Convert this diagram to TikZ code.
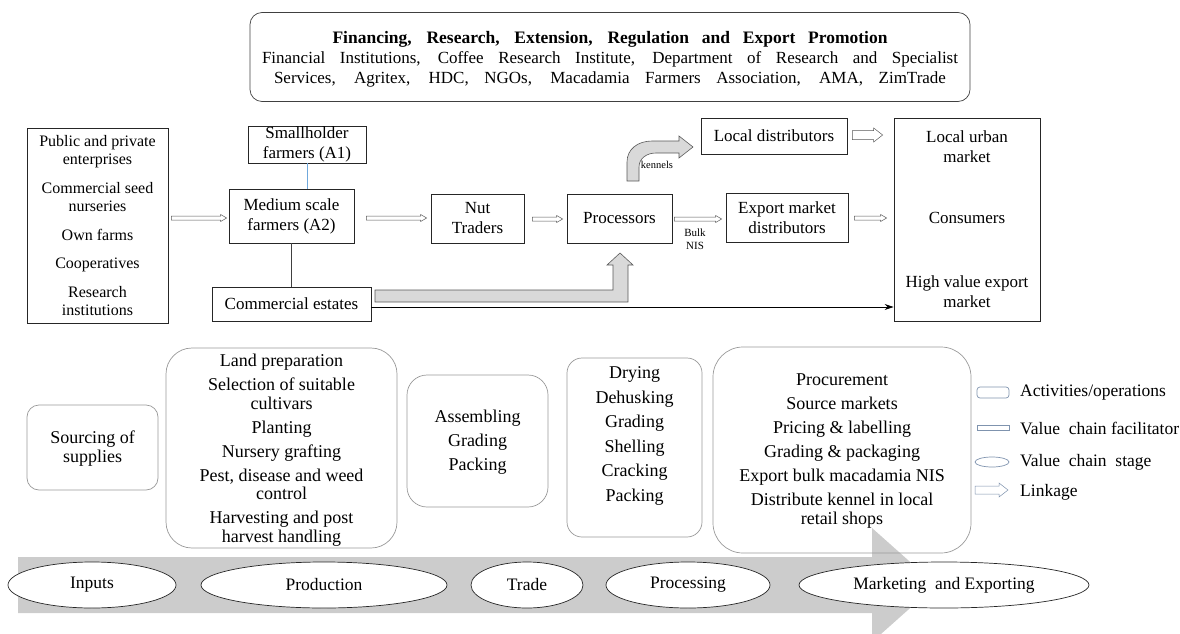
\documentclass[tikz,border=0pt]{standalone}
\usepackage{fontspec}
\setmainfont{LiberationSerif}[Extension=.ttf, UprightFont=*-Regular, BoldFont=*-Bold, ItalicFont=*-Italic, BoldItalicFont=*-BoldItalic]
\usetikzlibrary{shapes.geometric,arrows.meta,calc}
\newcommand\myfs[2]{\fontsize{#1}{#2}\selectfont}
\definecolor{legblue}{HTML}{7F93AE}
\definecolor{thinblue}{HTML}{6FA8DC}
\begin{document}
\begin{tikzpicture}[x=1pt,y=-1pt,
  box/.style={draw=black!85, line width=0.7pt, align=center, inner sep=0pt, font=\myfs{17}{20}},
  rbox/.style={draw=black!40, line width=0.7pt, inner sep=0pt},
  txt/.style={align=center, inner sep=0pt, font=\myfs{18}{18.5}},
  stage/.style={ellipse, draw=black!85, fill=white, line width=0.7pt, inner sep=0pt, font=\myfs{17.5}{20}},
  link/.style n args={3}{draw=black!65, fill=white, line width=0.5pt,
    to path={let \p1=(\tikztostart), \p2=(\tikztotarget) in
      (\x1,{\y1+#1}) -- ({\x2-#3},{\y1+#1}) -- ({\x2-#3},{\y1+#2}) -- (\x2,\y1)
      -- ({\x2-#3},{\y1-#2}) -- ({\x2-#3},{\y1-#1}) -- (\x1,{\y1-#1}) -- cycle}},
  blockarrow/.style={draw=black!65, fill=gray!30, line width=0.6pt},
  smalltxt/.style={font=\myfs{11}{12.5}, inner sep=0pt, align=center},
  legtxt/.style={font=\myfs{17.5}{20}, inner sep=0pt, anchor=west}
]
\useasboundingbox (0,0) rectangle (1180,634);

% big value chain arrow
\fill[gray!40] (18,557) -- (872,557) -- (872,528) -- (936,585) -- (872,642) -- (872,613) -- (18,613) -- cycle;

% top facilitator box
\node[draw=black!75, line width=0.7pt, rounded corners=12pt, minimum width=720, minimum height=89, inner sep=0pt] (top) at (610,57) {};
\node[align=center, inner sep=0pt, font=\myfs{17}{19.5}] (toptxt) at (610,59)
 {{\bfseries\myfs{17.5}{19}\makebox[555pt][s]{Financing, Research, Extension, Regulation and Export Promotion}}\\[1pt]
  \makebox[696pt][s]{Financial Institutions, Coffee Research Institute, Department of Research and Specialist}\\
  \makebox[672pt][s]{Services, Agritex, HDC, NGOs, Macadamia Farmers Association, AMA, ZimTrade}};

% actors
\node[box, minimum width=141, minimum height=195, font=\myfs{16}{18.5}] (inputs) at (97.5,225.5)
 {Public and private\\enterprises\\[10pt]Commercial seed\\nurseries\\[10pt]Own farms\\[10pt]Cooperatives\\[10pt]Research\\institutions};
\node[box, minimum width=118, minimum height=37] (small) at (307,144.5) {Smallholder\\farmers (A1)};
\node[box, minimum width=125, minimum height=54] (medium) at (291.5,216) {Medium scale\\farmers (A2)};
\node[box, minimum width=159, minimum height=34] (estates) at (291.5,304) {Commercial estates};
\node[box, minimum width=93, minimum height=49] (traders) at (477.5,218.5) {Nut\\Traders};
\node[box, minimum width=105, minimum height=49] (proc) at (619.5,218.5) {Processors};
\node[box, minimum width=122, minimum height=49] (export) at (787,217.5) {Export market\\distributors};
\node[box, minimum width=146, minimum height=36] (local) at (774,136) {Local distributors};
\node[box, minimum width=146, minimum height=203] (market) at (967,219.5)
 {Local urban\\market\\[41pt]Consumers\\[44pt]High value export\\market};

% plain connectors
\draw[thinblue, line width=0.7pt] (small.south) -- (small.south |- medium.north);
\draw[black!75, line width=0.7pt] (medium.south) -- (medium.south |- estates.north);

% linkage arrows
\draw[link={2pt}{3.5pt}{6pt}] ([xshift=3pt,yshift=7.5pt]inputs.east) to ([xshift=-2pt]medium.west);
\draw[link={2pt}{3.5pt}{6pt}] ([xshift=12pt,yshift=-2pt]medium.east) to ([xshift=-4pt]traders.west);
\draw[link={2pt}{3.5pt}{6pt}] ([xshift=8pt,yshift=-0.5pt]traders.east) to ([xshift=-4pt]proc.west);
\draw[link={2pt}{3.5pt}{6pt}] ([xshift=2pt,yshift=-0.5pt]proc.east) to ([xshift=-4pt]export.west);
\draw[link={2pt}{3.5pt}{6pt}] ([xshift=6pt,yshift=-0.5pt]export.east) to ([xshift=-7pt]market.west);
\draw[link={4.5pt}{7pt}{9pt}] ([xshift=5pt,yshift=1pt]local.east) to ([xshift=-11pt]local.east -| market.west);

% block arrows
\draw[blockarrow] (627,181) -- (627,162) .. controls (627,149) and (638,141) .. (652,141) -- (679,141)
  -- (679,136) -- (693,147) -- (679,158) -- (679,153) -- (656,153)
  .. controls (646,153) and (639,159) .. (639,167) -- (639,181) -- cycle;
\node[smalltxt, font=\myfs{10.5}{12}] (kennels) at (657,165) {kennels};
\draw[blockarrow] (375,290) -- (613,290) -- (613,265) -- (607,265) -- (620,253) -- (633,265)
  -- (628,265) -- (628,302) -- (375,302) -- cycle;
\node[smalltxt] (bulk) at (695,239) {Bulk\\NIS};

% direct export arrow
\coordinate (bk) at ([yshift=-3pt]estates.east);
\draw[line width=0.8pt, -{Stealth[length=9pt,width=6pt]}] (bk) -- (bk -| market.west);

% activity boxes
\node[rbox, rounded corners=12pt, minimum width=131, minimum height=85] (srcbox) at (92.5,447.5) {};
\node[txt, font=\myfs{18}{19}] (srctxt) at (92.5,448.5) {Sourcing of\\supplies};
\node[rbox, rounded corners=26pt, minimum width=231, minimum height=200] (prodbox) at (281.5,448) {};
\node[txt] (prodtxt) at (281.5,450) {Land preparation\\[5.5pt]Selection of suitable\\cultivars\\[5.5pt]Planting\\[5.5pt]Nursery grafting\\[5.5pt]Pest, disease and weed\\control\\[5.5pt]Harvesting and post\\harvest handling};
\node[rbox, rounded corners=20pt, minimum width=141, minimum height=132] (tradebox) at (477.5,441) {};
\node[txt, font=\myfs{18}{24}] (tradetxt) at (477.5,442) {Assembling\\Grading\\Packing};
\node[rbox, rounded corners=15pt, minimum width=135, minimum height=179] (procbox) at (634.5,447.5) {};
\node[txt, font=\myfs{18}{24.6}] (proctxt) at (634.5,436) {Drying\\Dehusking\\Grading\\Shelling\\Cracking\\Packing};
\node[rbox, rounded corners=30pt, minimum width=258, minimum height=206] (mktbox) at (842,450) {};
\node[txt, font=\myfs{18}{19}] (mkttxt) at (842,451) {Procurement\\[5pt]Source markets\\[5pt]Pricing \& labelling\\[5pt]Grading \& packaging\\[5pt]Export bulk macadamia NIS\\[5pt]Distribute kennel in local\\retail shops};

% value chain stages
\node[stage, minimum width=168, minimum height=46] (sInputs) at (92,585) {Inputs};
\node[stage, minimum width=246, minimum height=46] (sProd) at (324,585) {Production};
\node[stage, minimum width=112, minimum height=46] (sTrade) at (527,585) {Trade};
\node[stage, minimum width=164, minimum height=46] (sProc) at (688,585) {Processing};
\node[stage, minimum width=290, minimum height=46] (sMkt) at (944,585) {Marketing\ \ and Exporting};

% legend
\node[draw=legblue, line width=0.7pt, rounded corners=3pt, minimum width=32, minimum height=11, inner sep=0pt] (lg1) at (993,392.5) {};
\node[legtxt] (lt1) at (1020,393) {Activities/operations};
\node[draw=legblue, line width=0.7pt, minimum width=32, minimum height=5, inner sep=0pt] (lg2) at (993,427.5) {};
\node[legtxt] (lt2) at (1020,428) {Value\ \ chain facilitator};
\node[draw=legblue, line width=0.7pt, ellipse, minimum width=34, minimum height=10, inner sep=0pt] (lg3) at (992,462) {};
\node[legtxt] (lt3) at (1020,462) {Value\ \ chain\ \ stage};
\coordinate (lk1) at (975,490);
\coordinate (lk2) at (1008,490);
\draw[link={4pt}{7pt}{9pt}, draw=legblue] (lk1) to (lk2);
\node[legtxt] (lt4) at (1020,492) {Linkage};
\end{tikzpicture}
\end{document}
